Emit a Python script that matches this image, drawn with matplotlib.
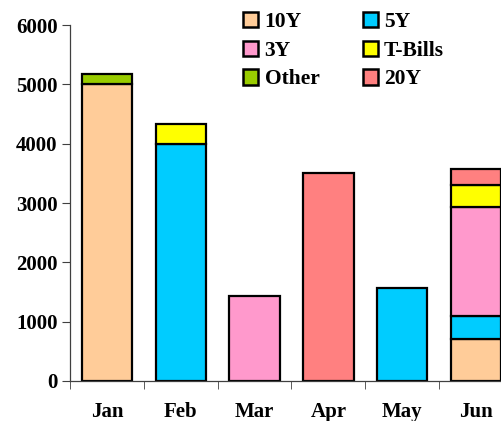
import matplotlib.pyplot as plt
import numpy as np

months = ['Jan', 'Feb', 'Mar', 'Apr', 'May', 'Jun']
series = ['10Y', '5Y', '3Y', 'T-Bills', 'Other', '20Y']
colors = ['#FFCC99', '#00CCFF', '#FF99CC', '#FFFF00', '#99CC00', '#FF8080']

y10 = [5000, 0, 0, 0, 0, 700]
y5 = [0, 4000, 0, 0, 1560, 400]
y3 = [0, 0, 1430, 0, 0, 1830]
tbills = [0, 330, 0, 0, 0, 380]
other = [170, 0, 0, 0, 0, 0]
y20 = [0, 0, 0, 3500, 0, 260]
values = [y10, y5, y3, tbills, other, y20]

plt.rcParams['font.family'] = ['Liberation Serif', 'DejaVu Serif']
plt.rcParams['font.weight'] = 'bold'

fig = plt.figure(figsize=(5.02, 4.21), dpi=100)
ax = fig.add_axes([70 / 502, 40 / 421, 443 / 502, 356 / 421])

x = np.arange(len(months))
bottom = np.zeros(len(months))
handles = []
for name, vals, col in zip(series, values, colors):
    vals = np.array(vals, dtype=float)
    m = vals > 0
    h = ax.bar(x[m], vals[m], bottom=bottom[m], width=0.68, color=col,
               edgecolor='black', linewidth=1.6, label=name)
    handles.append(h)
    bottom += vals

ax.set_xlim(-0.5, 5.5)
ax.set_ylim(0, 6000)
ax.set_yticks(range(0, 6001, 1000))
ax.set_xticks(x)
ax.set_xticklabels(months)
ax.set_xticks(np.arange(-0.5, 6, 1), minor=True)
ax.tick_params(axis='x', which='major', length=0, pad=15, labelsize=15)
ax.tick_params(axis='x', which='minor', length=6, direction='out', color='#404040')
ax.tick_params(axis='y', length=6, direction='out', color='#404040', labelsize=15, pad=3)
for s in ['top', 'right']:
    ax.spines[s].set_visible(False)
for s in ['left', 'bottom']:
    ax.spines[s].set_color('#404040')
    ax.spines[s].set_linewidth(0.9)

# legend filled row by row: 10Y 5Y / 3Y T-Bills / Other 20Y
order = [0, 2, 4, 1, 3, 5]
leg = fig.legend([handles[i] for i in order], [series[i] for i in order],
                 ncol=2, frameon=False, loc='upper left',
                 bbox_to_anchor=(228 / 502, 1 + 3 / 421),
                 prop={'family': 'Liberation Serif', 'weight': 'bold', 'size': 15.5},
                 handlelength=0.7, handleheight=0.7, handletextpad=0.3,
                 columnspacing=2.0, labelspacing=0.4, borderpad=0.2)
for p in leg.get_patches():
    p.set_linewidth(1.8)

fig.savefig('out.png', dpi=100)
